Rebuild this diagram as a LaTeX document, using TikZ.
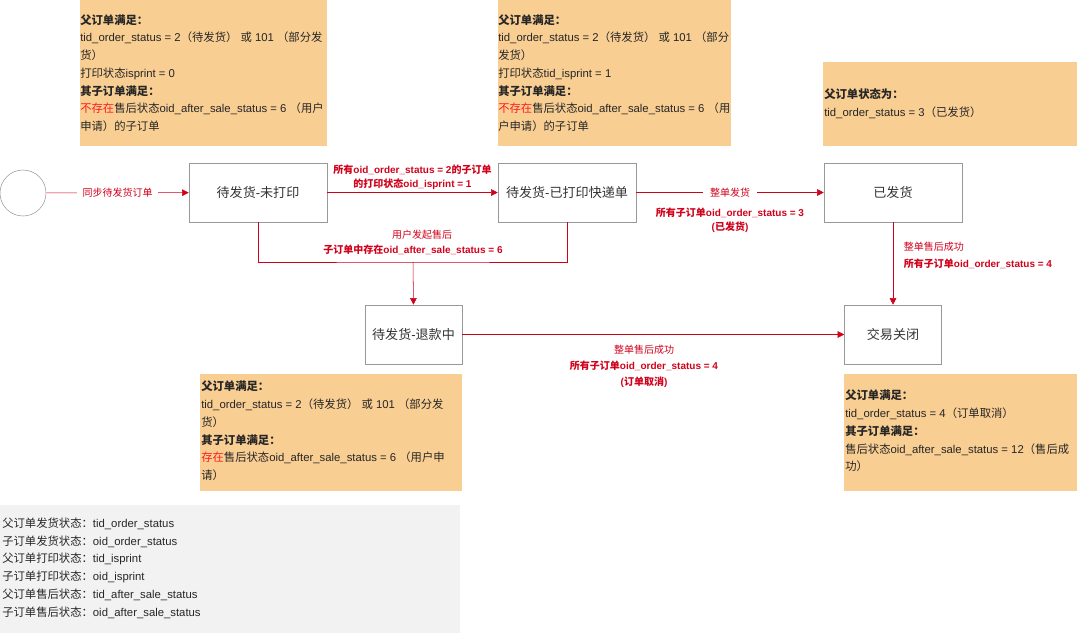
\documentclass[tikz,border=0pt]{standalone}
\usepackage{fontspec}
\setmainfont{Liberation Sans}
\newfontfamily\cjkfont{Noto Sans CJK SC}
% switch to the CJK family for Chinese characters
\XeTeXinterchartokenstate=1
\newXeTeXintercharclass\cjkclass
\newcount\cjkc
\def\cjkrange#1#2{\cjkc=#1 \loop\XeTeXcharclass\cjkc=\cjkclass \advance\cjkc by 1 \ifnum\cjkc<#2 \repeat}
\cjkrange{"3000}{"3040}
\cjkrange{"4E00}{"A000}
\cjkrange{"FF00}{"FFF0}
\XeTeXinterchartoks 0 \cjkclass = {\begingroup\cjkfont}
\XeTeXinterchartoks 4095 \cjkclass = {\begingroup\cjkfont}
\XeTeXinterchartoks \cjkclass 0 = {\endgroup}
\XeTeXinterchartoks \cjkclass 4095 = {\endgroup}
\usepackage{xcolor}
\usepackage{tikz}
\usetikzlibrary{positioning,arrows.meta}
\definecolor{flowred}{HTML}{D0021B}
\definecolor{notered}{HTML}{FF1A1A}
\definecolor{noteorange}{HTML}{F9CE93}
\definecolor{legendgray}{HTML}{F2F2F2}

\begin{document}
\begin{tikzpicture}[x=0.75pt,y=-0.75pt,
									state/.style = {draw=black!40, fill=white, minimum width=103.5pt, minimum height=44.25pt, inner sep=0pt, text=black!80, font=\fontsize{9.8}{12}\selectfont},
									small/.style = {state, minimum width=72.75pt},
									note/.style = {anchor=west, align=left, inner sep=0pt, text=black!85, font=\fontsize{8.5}{13.3}\selectfont},
									flow/.style = {draw=flowred, -{Triangle[length=5pt,width=5pt]}},
									lbl/.style = {text=flowred, align=center, inner sep=1pt, font=\fontsize{7.5}{10.5}\selectfont}]
					\useasboundingbox (0,0) rectangle (1080,633);
					
					% condition notes
					\fill[noteorange] (80,0) rectangle (327,146);
					\fill[noteorange] (498,0) rectangle (731,146);
					\fill[noteorange] (823,62) rectangle (1077,146);
					\fill[noteorange] (200,374) rectangle (462,491);
					\fill[noteorange] (844,374) rectangle (1077,491);
					\fill[legendgray] (0,505) rectangle (460,633);
					
					\node[note] (n1) at (80,73) {\textbf{父订单满足：}\\
						tid\_order\_status = 2（待发货） 或 101 （部分发\\
						货）\\
						打印状态isprint = 0\\
						\textbf{其子订单满足：}\\
						{\color{notered}不存在}售后状态oid\_after\_sale\_status = 6 （用户\\
						申请）的子订单};
					\node[note] (n2) at (498,73) {\textbf{父订单满足：}\\
						tid\_order\_status = 2（待发货） 或 101 （部分\\
						发货）\\
						打印状态tid\_isprint = 1\\
						\textbf{其子订单满足：}\\
						{\color{notered}不存在}售后状态oid\_after\_sale\_status = 6 （用\\
						户申请）的子订单};
					\node[note] (n3) at (824,104) {\textbf{父订单状态为：}\\
						tid\_order\_status = 3（已发货）};
					\node[note] (n4) at (201,431) {\textbf{父订单满足：}\\
						tid\_order\_status = 2（待发货） 或 101 （部分发\\
						货）\\
						\textbf{其子订单满足：}\\
						{\color{notered}存在}售后状态oid\_after\_sale\_status = 6 （用户申\\
						请）};
					\node[note] (n5) at (845,431) {\textbf{父订单满足：}\\
						tid\_order\_status = 4（订单取消）\\
						\textbf{其子订单满足：}\\
						售后状态oid\_after\_sale\_status = 12（售后成\\
						功）};
					
					% legend
					\node[note] (key) at (2,568) {父订单发货状态：tid\_order\_status\\
						子订单发货状态：oid\_order\_status\\
						父订单打印状态：tid\_isprint\\
						子订单打印状态：oid\_isprint\\
						父订单售后状态：tid\_after\_sale\_status\\
						子订单售后状态：oid\_after\_sale\_status};
					
					% states
					\node[circle, draw=black!40, minimum size=34.5pt, inner sep=0pt] (start) at (23,193) {};
					\node[state] (s1) at (258,192.5) {待发货-未打印};
					\node[state] (s2) at (567,192.5) {待发货-已打印快递单};
					\node[state] (s3) at (893,192.5) {已发货};
					\node[small] (s4) at (413.5,334.5) {待发货-退款中};
					\node[small] (s5) at (893,334.5) {交易关闭};
					
					\coordinate (join) at (413,262);
					
					% transitions
					\draw[flow] (start) -- node[lbl, fill=white, inner xsep=4pt] {同步待发货订单} (s1);
					\draw[flow] (s1) -- node[lbl, above=1pt] {\textbf{所有oid\_order\_status = 2的子订单}\\ \textbf{的打印状态oid\_isprint = 1}} (s2);
					\draw[flow] (s2) -- node[lbl, fill=white, inner xsep=5pt] (ship) {整单发货} (s3);
					\node[lbl, below=6pt of ship] (shipc) {\textbf{所有子订单oid\_order\_status = 3}\\ \textbf{(已发货)}};
					
					\draw[draw=flowred] (s1.south) |- (join) -| (s2.south);
					\draw[flow] (join) -- (s4.north);
					\node[lbl] (ua) at (422,235) {用户发起售后};
					\node[lbl] (uac) at (413,250) {\textbf{子订单中存在oid\_after\_sale\_status = 6}};
					
					\draw[flow] (s3) -- node[lbl, right=7pt, align=left, pos=0.4, font=\fontsize{7.5}{12.5}\selectfont] {整单售后成功\\ \textbf{所有子订单oid\_order\_status = 4}} (s5);
					\draw[flow] (s4) -- (s5);
					\node[lbl, font=\fontsize{7.5}{12}\selectfont] (done) at (644,366) {整单售后成功\\ \textbf{所有子订单oid\_order\_status = 4}\\ \textbf{(订单取消)}};
				\end{tikzpicture}
\end{document}
